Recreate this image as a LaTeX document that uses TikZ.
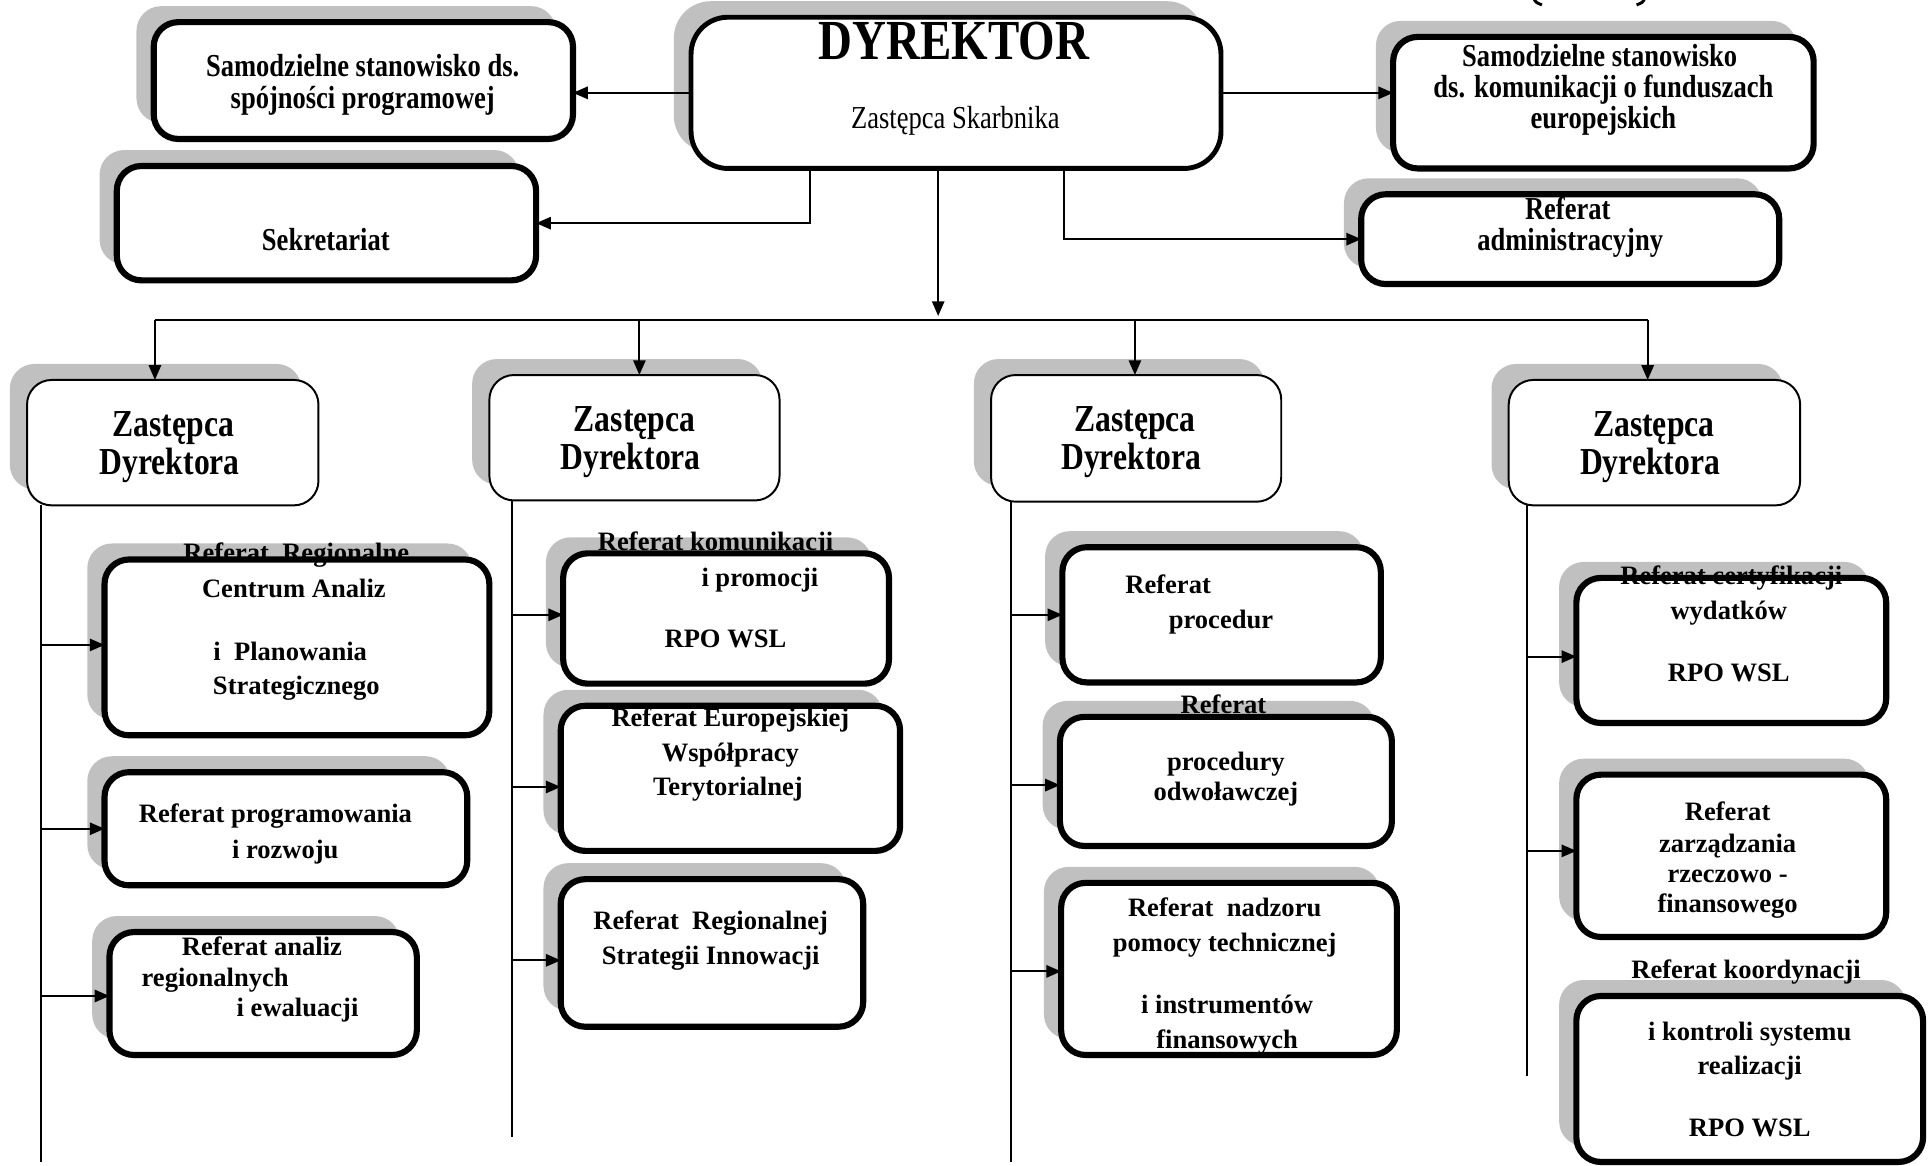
\documentclass[tikz,border=0pt]{standalone}
\usepackage{fontspec}
\setmainfont{Liberation Serif}
\newfontfamily\cond[FakeStretch=0.83]{Liberation Serif}
\usetikzlibrary{arrows.meta,fit,calc}
\definecolor{shd}{RGB}{192,192,192}
\tikzset{
  lw/.style={font=\bfseries\fontsize{10.8}{13}\selectfont, anchor=mid, inner sep=0, yshift=-1.2pt},
  tw/.style={font=\cond\bfseries\fontsize{13}{13}\selectfont, anchor=mid, inner sep=0, yshift=-1.9pt},
  zw/.style={font=\cond\bfseries\fontsize{15.5}{15}\selectfont, anchor=mid, inner sep=0, yshift=-2pt},
  dw/.style={font=\cond\bfseries\fontsize{23}{23}\selectfont, anchor=mid, inner sep=0, yshift=-5pt},
  rw/.style={font=\cond\fontsize{13}{13}\selectfont, anchor=mid, inner sep=0, yshift=-2pt},
  conn/.style={line width=0.8pt},
  arr/.style={conn, -{Triangle[length=6pt,width=5pt]}},
  fillbox/.style={fill=white, inner sep=0, outer sep=0},
}
\newcommand\mkbox[4]{%
  \fill[shd, rounded corners=#2] ($#3+(-14,-13)$) rectangle ($#4+(-14,-13)$);
  \node[fillbox, rounded corners=#2, fit={#3 #4}] (#1) {};
}
\newcommand\bord[3]{\draw[line width=#2, rounded corners=#3] (#1.south west) rectangle (#1.north east);}
\newcommand\wline[5]{\node[#1] (#2) at (#3,#4) {#5};}
% branch arrow: vertical line coordinate, box name, vertical offset
\newcommand\branch[3]{\draw[arr] ($(#1 |- #2.west)+(0,#3)$) -- ($(#2.west)+(0,#3)$);}
\begin{document}
\begin{tikzpicture}[x=0.5pt,y=-0.5pt]
\useasboundingbox (0,0) rectangle (1568,948);
% boxes (shadow + white fill)
\mkbox{ssp}{10pt}{(125,18)}{(466,113)}
\mkbox{dir}{15pt}{(562,14)}{(993,137)}
\mkbox{kom}{10pt}{(1133,30)}{(1475,137)}
\mkbox{sek}{10pt}{(95,135)}{(436,228)}
\mkbox{adm}{10pt}{(1107,158)}{(1447,231)}
\mkbox{za}{10pt}{(22,309)}{(259,411)}
\mkbox{zb}{10pt}{(398,305)}{(634,407)}
\mkbox{zc}{10pt}{(806,305)}{(1042,408)}
\mkbox{zd}{10pt}{(1227,309)}{(1464,411)}
\mkbox{a1}{10pt}{(85,455)}{(398,598)}
\mkbox{a2}{10pt}{(85,628)}{(380,720)}
\mkbox{a3}{10pt}{(89,758)}{(339,858)}
\mkbox{b1}{10pt}{(458,450)}{(723,556)}
\mkbox{b2}{10pt}{(456,574)}{(732,692)}
\mkbox{b3}{10pt}{(456,715)}{(702,835)}
\mkbox{c1}{10pt}{(864,445)}{(1123,555)}
\mkbox{c2}{10pt}{(862,583)}{(1132,688)}
\mkbox{c3}{10pt}{(863,718)}{(1136,858)}
\mkbox{d1}{10pt}{(1282,470)}{(1534,588)}
\mkbox{d2}{10pt}{(1282,630)}{(1534,762)}
\mkbox{d3}{10pt}{(1282,810)}{(1564,945)}
% texts
\wline{tw}{ssp1}{295}{54}{Samodzielne stanowisko ds.}
\wline{tw}{ssp2}{295}{80}{spójności programowej}
\wline{dw}{dir1}{776}{34}{DYREKTOR}
\wline{rw}{dir2}{777}{96}{Zastępca Skarbnika}
\wline{tw}{kom1}{1301}{46}{Samodzielne stanowisko}
\wline{tw}{kom2}{1304}{71}{ds. komunikacji o funduszach}
\wline{tw}{kom3}{1304}{96}{europejskich}
\wline{tw}{sek1}{265}{195}{Sekretariat}
\wline{tw}{adm1}{1275}{170}{Referat}
\wline{tw}{adm2}{1277}{195}{administracyjny}
\wline{zw}{za1}{141}{346}{Zastępca}
\wline{zw}{za2}{138}{377}{Dyrektora}
\wline{zw}{zb1}{516}{342}{Zastępca}
\wline{zw}{zb2}{513}{373}{Dyrektora}
\wline{zw}{zc1}{923}{342}{Zastępca}
\wline{zw}{zc2}{920}{373}{Dyrektora}
\wline{zw}{zd1}{1345}{346}{Zastępca}
\wline{zw}{zd2}{1342}{377}{Dyrektora}
\wline{lw}{a11}{241}{450}{Referat~ Regionalne}
\wline{lw}{a12}{239}{479}{Centrum Analiz}
\wline{lw}{a13}{236}{530}{i~ Planowania}
\wline{lw}{a14}{241}{558}{Strategicznego}
\wline{lw}{a21}{224}{662}{Referat programowania}
\wline{lw}{a22}{232}{691}{i rozwoju}
\wline{lw}{a31}{213}{770}{Referat analiz}
\wline{lw}{a32}{175}{795}{regionalnych}
\wline{lw}{a33}{242}{820}{i ewaluacji}
\wline{lw}{b11}{582}{441}{Referat komunikacji}
\wline{lw}{b12}{618}{470}{i promocji}
\wline{lw}{b13}{590}{520}{RPO WSL}
\wline{lw}{b21}{594}{584}{Referat Europejskiej}
\wline{lw}{b22}{594}{612}{Współpracy}
\wline{lw}{b23}{592}{640}{Terytorialnej}
\wline{lw}{b31}{578}{749}{Referat~ Regionalnej}
\wline{lw}{b32}{578}{777}{Strategii Innowacji}
\wline{lw}{c11}{950}{476}{Referat}
\wline{lw}{c12}{993}{504}{procedur}
\wline{lw}{c21}{995}{573}{Referat}
\wline{lw}{c22}{997}{620}{procedury}
\wline{lw}{c23}{997}{644}{odwoławczej}
\wline{lw}{c31}{996}{738}{Referat~ nadzoru}
\wline{lw}{c32}{996}{767}{pomocy technicznej}
\wline{lw}{c33}{998}{817}{i instrumentów}
\wline{lw}{c34}{998}{846}{finansowych}
\wline{lw}{d11}{1408}{468}{Referat certyfikacji}
\wline{lw}{d12}{1406}{497}{wydatków}
\wline{lw}{d13}{1406}{547}{RPO WSL}
\wline{lw}{d21}{1405}{660}{Referat}
\wline{lw}{d22}{1405}{686}{zarządzania}
\wline{lw}{d23}{1405}{711}{rzeczowo -}
\wline{lw}{d24}{1405}{735}{finansowego}
\wline{lw}{d31}{1420}{789}{Referat koordynacji}
\wline{lw}{d32}{1423}{839}{i kontroli systemu}
\wline{lw}{d33}{1423}{867}{realizacji}
\wline{lw}{d34}{1423}{917}{RPO WSL}
% borders
\bord{ssp}{2.5pt}{10pt}
\bord{dir}{2pt}{15pt}
\bord{kom}{2.5pt}{10pt}
\bord{sek}{2.5pt}{10pt}
\bord{adm}{2.5pt}{10pt}
\bord{za}{0.8pt}{10pt}
\bord{zb}{0.8pt}{10pt}
\bord{zc}{0.8pt}{10pt}
\bord{zd}{0.8pt}{10pt}
\bord{a1}{2.5pt}{10pt}
\bord{a2}{2.5pt}{10pt}
\bord{a3}{2.5pt}{10pt}
\bord{b1}{2.5pt}{10pt}
\bord{b2}{2.5pt}{10pt}
\bord{b3}{2.5pt}{10pt}
\bord{c1}{2.5pt}{10pt}
\bord{c2}{2.5pt}{10pt}
\bord{c3}{2.5pt}{10pt}
\bord{d1}{2.5pt}{10pt}
\bord{d2}{2.5pt}{10pt}
\bord{d3}{2.5pt}{10pt}
% top connectors
\draw[arr] (dir.west) -- (dir.west -| ssp.east);
\draw[arr] (dir.east) -- (dir.east -| kom.west);
\coordinate (dsl) at (659,137);
\draw[arr] (dsl) |- (sek.east);
\coordinate (dsr) at (865,137);
\draw[arr] (dsr) |- (adm.west);
\coordinate (dsm) at (763,137);
\coordinate (bus) at (763,257);
\draw[arr] (dsm) -- (bus);
\coordinate (bus1) at (126,260);
\coordinate (bus2) at (520,260);
\coordinate (bus3) at (923,260);
\coordinate (bus4) at (1340,260);
\draw[conn] (bus1) -- (bus4);
\draw[arr] (bus1) -- (bus1 |- za.north);
\draw[arr] (bus2) -- (bus2 |- zb.north);
\draw[arr] (bus3) -- (bus3 |- zc.north);
\draw[arr] (bus4) -- (bus4 |- zd.north);
% column lines
\coordinate (v1) at (33,945);
\coordinate (v2) at (416,925);
\coordinate (v3) at (822,945);
\coordinate (v4) at (1242,875);
\draw[conn] (v1 |- za.south) -- (v1);
\draw[conn] (v2 |- zb.south) -- (v2);
\draw[conn] (v3 |- zc.south) -- (v3);
\draw[conn] (v4 |- zd.south) -- (v4);
\branch{v1}{a1}{-2}
\branch{v1}{a2}{0}
\branch{v1}{a3}{2}
\branch{v2}{b1}{-3}
\branch{v2}{b2}{7}
\branch{v2}{b3}{6}
\branch{v3}{c1}{0}
\branch{v3}{c2}{3}
\branch{v3}{c3}{2}
\branch{v4}{d1}{5}
\branch{v4}{d2}{-4}
% partial parentheses at the top edge
\draw[line width=1.2pt] (1247,-2) .. controls (1249,2) .. (1254,4);
\draw[line width=1.2pt] (1338,-2) .. controls (1336,2) .. (1331,4);
\end{tikzpicture}
\end{document}
